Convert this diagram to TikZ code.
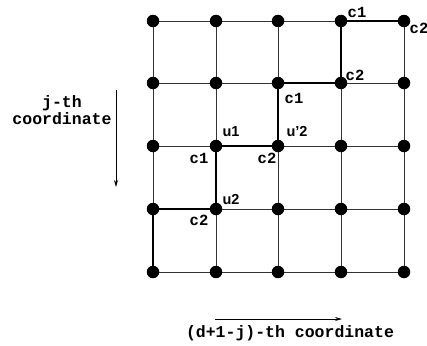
\documentclass[tikz,border=0pt]{standalone}
\usepackage{fontspec}
\setmainfont{Liberation Sans}
\newfontfamily\cour{Liberation Mono}
\usetikzlibrary{arrows.meta}
\begin{document}
\begin{tikzpicture}[x=1pt,y=-1pt,
  dot/.style={circle,fill=black,inner sep=0pt,minimum size=12.5pt},
  gridline/.style={line width=0.8pt,black!80},
  pathline/.style={line width=1.7pt,black},
  clab/.style={font=\cour\bfseries\fontsize{15.5}{16}\selectfont,inner sep=0pt},
  ulab/.style={font=\bfseries\fontsize{14.5}{15}\selectfont,inner sep=0pt},
  axlab/.style={font=\cour\bfseries\fontsize{16.5}{12.5}\selectfont,inner sep=0pt,align=center},
  axarrow/.style={line width=0.8pt,-{Stealth[length=7pt,width=4pt]}}]
\useasboundingbox (0,0) rectangle (427,345);
% grid points
\foreach \i/\x in {0/153,1/216,2/278,3/341,4/404}{
  \foreach \j/\y in {0/21,1/83,2/146,3/209,4/272}{
    \coordinate (q-\i-\j) at (\x,\y);
  }
}
% grid lines
\foreach \i in {0,...,4}{
  \draw[gridline] (q-\i-0) -- (q-\i-4);
  \draw[gridline] (q-0-\i) -- (q-4-\i);
}
% staircase path
\draw[pathline] (q-0-4) -- (q-0-3) -- (q-1-3) -- (q-1-2) -- (q-2-2) -- (q-2-1) -- (q-3-1) -- (q-3-0) -- (q-4-0);
% dots
\foreach \i in {0,...,4}{
  \foreach \j in {0,...,4}{
    \node[dot] (p-\i-\j) at (q-\i-\j) {};
  }
}
% labels
\node[clab] (l1) at (357,12) {c1};
\node[clab] (l2) at (419,28) {c2};
\node[clab] (l3) at (355,75) {c2};
\node[clab] (l4) at (294,98) {c1};
\node[ulab] (l5) at (231,132) {u1};
\node[ulab] (l6) at (297,132) {u'2};
\node[clab] (l7) at (199,158) {c1};
\node[clab] (l8) at (267,158) {c2};
\node[ulab] (l9) at (231,200) {u2};
\node[clab] (l10) at (199,220) {c2};
% axes
\coordinate (va) at (116,90);
\coordinate (vb) at (116,187);
\draw[axarrow] (va) -- (vb);
\node[axlab] (jt) at (62,110) {j-th\\coordinate};
\coordinate (ha) at (215,319);
\coordinate (hb) at (342,319);
\draw[axarrow] (ha) -- (hb);
\node[axlab] (dt) at (290,333) {(d+1-j)-th coordinate};
\end{tikzpicture}
\end{document}
